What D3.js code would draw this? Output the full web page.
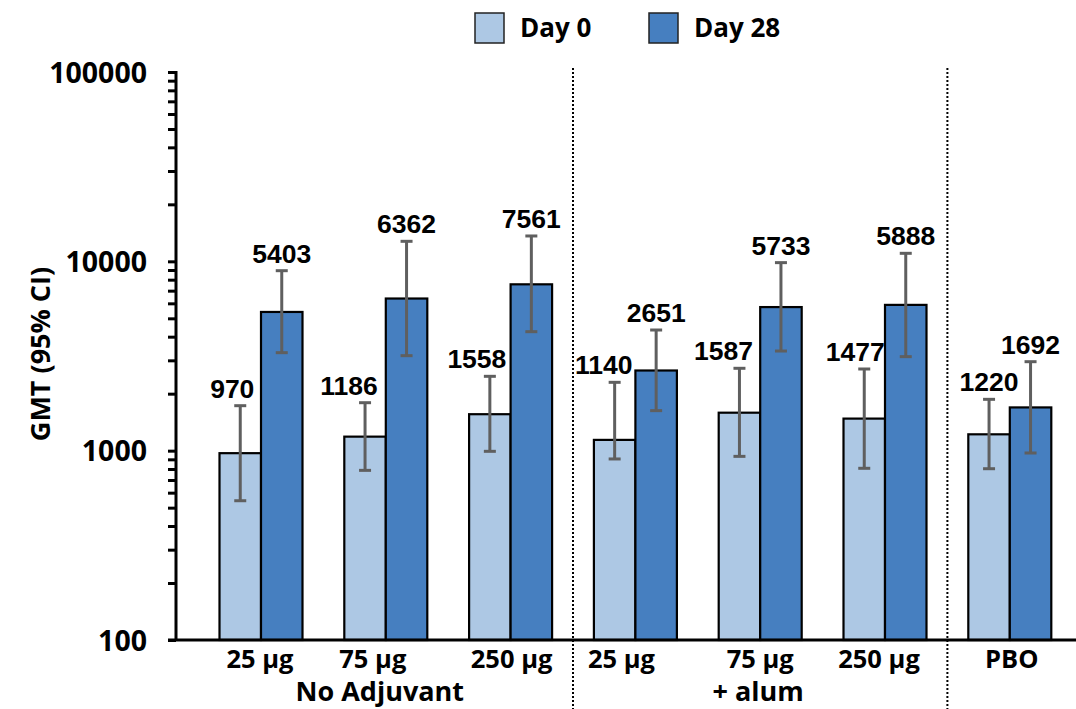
<!DOCTYPE html>
<html>
<head>
<meta charset="utf-8">
<script src="https://cdn.jsdelivr.net/npm/d3@7"></script>
<style>
  html, body { margin: 0; padding: 0; background: #fff; }
  svg { display: block; }
  .lbl { font-family: "Open Sans", Lato, sans-serif; font-weight: 700; fill: #000; }
  .val { font-family: "Liberation Sans", Arial, sans-serif; font-weight: 700; fill: #000; }
</style>
</head>
<body>
<svg id="chart" width="1076" height="709"></svg>
<script>
// Dose groups along the x axis
const categories = ["25 µg", "75 µg", "250 µg", "25 µg", "75 µg", "250 µg", "PBO"];
const groupNames = ["No Adjuvant", "+ alum"];
const groupOf    = [0, 0, 0, 1, 1, 1, -1];
const seriesNames = ["Day 0", "Day 28"];

// Geometric mean titres
const day0  = [970, 1186, 1558, 1140, 1587, 1477, 1220];
const day28 = [5403, 6362, 7561, 2651, 5733, 5888, 1692];

// 95% confidence intervals
const day0Low   = [544, 787, 992, 904, 933, 807, 803];
const day0High  = [1728, 1792, 2470, 2296, 2723, 2700, 1867];
const day28Low  = [3293, 3175, 4250, 1627, 3360, 3137, 972];
const day28High = [8925, 12757, 13613, 4338, 9843, 11025, 2951];

const yTicks = [100, 1000, 10000, 100000];

// Layout
const W = 1076, H = 709;
const axisX = 176, axisY = 640, topY = 72;
const colors = ["#adc8e4", "#467fc0"];
const errColor = "#5f5f5f";
// small horizontal nudges for Day 0 value labels and category labels
const day0LabelShift = [-8, -16, -13, -11, -16, -9, 0];
const tickLabelShift = [-1, -13, 1, -14, 0, -6, 2];

const svg = d3.select("#chart");

const y = d3.scaleLog().domain([100, 100000]).range([axisY, topY]);

const idx = d3.range(categories.length);
const x0 = d3.scaleBand().domain(idx).range([198.6, 1072.2])
  .paddingInner(0.335).paddingOuter(0.1675);
const x1 = d3.scaleBand().domain(seriesNames).range([0, x0.bandwidth()]);

const rows = idx.map(i => ({
  i,
  vals: [
    { s: 0, v: day0[i],  lo: day0Low[i],  hi: day0High[i] },
    { s: 1, v: day28[i], lo: day28Low[i], hi: day28High[i] }
  ]
}));

// Bars
const g = svg.append("g");
const grp = g.selectAll("g.grp").data(rows).join("g")
  .attr("class", "grp")
  .attr("transform", d => `translate(${x0(d.i)},0)`);

grp.selectAll("rect").data(d => d.vals).join("rect")
  .attr("x", d => x1(seriesNames[d.s]))
  .attr("y", d => y(d.v))
  .attr("width", x1.bandwidth())
  .attr("height", d => axisY - y(d.v))
  .attr("fill", d => colors[d.s])
  .attr("stroke", "#000")
  .attr("stroke-width", 2.2);

// Error bars
const eb = grp.selectAll("g.eb").data(d => d.vals).join("g").attr("class", "eb");
const cx = d => x1(seriesNames[d.s]) + x1.bandwidth() / 2;
eb.append("line")
  .attr("x1", cx).attr("x2", cx)
  .attr("y1", d => y(d.lo)).attr("y2", d => y(d.hi))
  .attr("stroke", errColor).attr("stroke-width", 3);
["lo", "hi"].forEach(k => {
  eb.append("line")
    .attr("x1", d => cx(d) - 6).attr("x2", d => cx(d) + 6)
    .attr("y1", d => y(d[k])).attr("y2", d => y(d[k]))
    .attr("stroke", errColor).attr("stroke-width", 3);
});

// Value labels above the upper CI
grp.selectAll("text.val").data(d => d.vals.map(v => ({ ...v, i: d.i }))).join("text")
  .attr("class", "val")
  .attr("x", d => cx(d) + (d.s === 0 ? day0LabelShift[d.i] : 0))
  .attr("y", d => y(d.hi) - 8)
  .attr("text-anchor", "middle")
  .attr("font-size", 26.5)
  .text(d => d.v);

// Group separators
const sepXs = [];
for (let i = 1; i < idx.length; i++) {
  if (groupOf[i] !== groupOf[i - 1]) {
    sepXs.push((x0(i - 1) + x0.bandwidth() + x0(i)) / 2);
  }
}
svg.selectAll("line.sep").data(sepXs).join("line")
  .attr("class", "sep")
  .attr("x1", d => d).attr("x2", d => d)
  .attr("y1", 68).attr("y2", H)
  .attr("stroke", "#000").attr("stroke-width", 2)
  .attr("stroke-dasharray", "2,2");

// Y axis (log) with minor ticks
const minor = [];
for (let dec = 100; dec < 100000; dec *= 10) {
  for (let m = 2; m <= 9; m++) minor.push(dec * m);
}
const yAxis = d3.axisLeft(y).tickValues(yTicks.concat(minor))
  .tickSize(8).tickFormat(d => yTicks.includes(d) ? String(d) : "");
const ya = svg.append("g").attr("transform", `translate(${axisX},0)`).call(yAxis);
ya.select(".domain").attr("stroke", "#000").attr("stroke-width", 3)
  .attr("d", `M0,${topY - 1}V${axisY}`);
ya.selectAll(".tick line").attr("stroke", "#000").attr("stroke-width", 3);
ya.selectAll(".tick text")
  .attr("class", "lbl")
  .attr("font-size", 28.5)
  .attr("x", -29)
  .attr("dy", "0.36em");

// X axis line
svg.append("line")
  .attr("x1", 168).attr("x2", W).attr("y1", axisY).attr("y2", axisY)
  .attr("stroke", "#000").attr("stroke-width", 3);

// Category labels
svg.selectAll("text.cat").data(idx).join("text")
  .attr("class", "lbl cat")
  .attr("x", i => x0(i) + x0.bandwidth() / 2 + tickLabelShift[i])
  .attr("y", 668)
  .attr("text-anchor", "middle")
  .attr("font-size", 25.5)
  .text(i => categories[i]);

// Group labels
const groupCenters = [
  (x0(0) + x0(2) + x0.bandwidth()) / 2 - 6,
  x0(4) + x0.bandwidth() / 2 - 2
];
svg.selectAll("text.grpname").data(groupNames).join("text")
  .attr("class", "lbl grpname")
  .attr("x", (d, k) => groupCenters[k])
  .attr("y", 701)
  .attr("text-anchor", "middle")
  .attr("font-size", 27)
  .text(d => d);

// Y axis title
svg.append("text")
  .attr("class", "lbl")
  .attr("transform", "translate(50,354) rotate(-90)")
  .attr("text-anchor", "middle")
  .attr("font-size", 27)
  .text("GMT (95% CI)");

// Legend
const legendX = [475, 649];
const lg = svg.selectAll("g.leg").data(seriesNames).join("g")
  .attr("class", "leg")
  .attr("transform", (d, k) => `translate(${legendX[k]},13)`);
lg.append("rect").attr("width", 29).attr("height", 30)
  .attr("fill", (d, k) => colors[k]).attr("stroke", "#222").attr("stroke-width", 1.5);
lg.append("text").attr("class", "lbl")
  .attr("x", 45).attr("y", 24)
  .attr("font-size", 26)
  .text(d => d);
</script>
</body>
</html>
